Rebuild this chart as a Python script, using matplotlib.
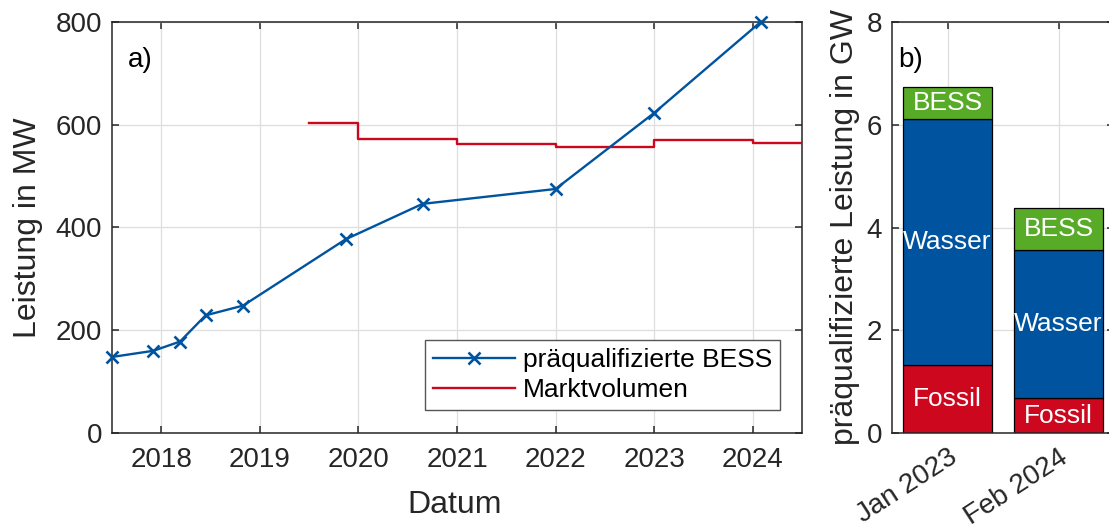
import matplotlib
matplotlib.use("Agg")
import matplotlib.pyplot as plt

plt.rcParams["font.family"] = ["Liberation Sans", "DejaVu Sans"]

# ── Data ──────────────────────────────────────────────────────────────────────
bess_dates = [2017.5, 2017.92, 2018.19, 2018.45, 2018.83, 2019.87, 2020.65, 2022.0, 2023.0, 2024.08]
bess_mw    = [148, 160, 178, 229, 248, 377, 446, 475, 623, 800]

markt_dates = [2019.5, 2020.0, 2021.0, 2022.0, 2023.0, 2024.0, 2024.5]
markt_mw    = [604, 573, 563, 556, 571, 565, 565]

year_ticks = [2018, 2019, 2020, 2021, 2022, 2023, 2024]

bar_labels = ["Jan 2023", "Feb 2024"]
fossil_gw  = [1.33, 0.68]
wasser_gw  = [4.79, 2.89]
bess_gw    = [0.62, 0.81]

# ── Style ─────────────────────────────────────────────────────────────────────
BLUE  = "#00549F"
RED   = "#CC071E"
GREEN = "#57AB27"
DARK  = "#262626"
TICK_FS  = 20
LABEL_FS = 23

W, H = 1109, 531
fig = plt.figure(figsize=(W / 100, H / 100), dpi=100)


def style_axes(ax):
    for s in ax.spines.values():
        s.set_color(DARK)
        s.set_linewidth(1.1)
    ax.tick_params(direction="in", length=5, width=1.1, colors=DARK,
                   labelsize=TICK_FS, top=True, right=True,
                   labelcolor=DARK)
    ax.grid(True, color="#dedede", linewidth=0.9)
    ax.set_axisbelow(True)


# ── a) time series ────────────────────────────────────────────────────────────
ax1 = fig.add_axes([112 / W, 1 - 433 / H, 690 / W, 411 / H])
style_axes(ax1)
ax1.plot(bess_dates, bess_mw, color=BLUE, lw=1.7, marker="x", ms=9, mew=1.9,
         label="präqualifizierte BESS", clip_on=False, zorder=4)
ax1.plot(markt_dates, markt_mw, color=RED, lw=1.7, drawstyle="steps-post",
         label="Marktvolumen", zorder=3)
ax1.set_xlim(2017.5, 2024.5)
ax1.set_ylim(0, 800)
ax1.set_xticks(year_ticks)
ax1.set_xticklabels([str(y) for y in year_ticks])
ax1.set_yticks([0, 200, 400, 600, 800])
ax1.tick_params(axis="x", pad=10)
ax1.tick_params(axis="y", pad=7)
ax1.text(0.023, 0.94, "a)", transform=ax1.transAxes, fontsize=20,
         color="black", ha="left", va="top")

leg = ax1.legend(loc="lower right", bbox_to_anchor=(0.968, 0.056),
                 fontsize=19, frameon=True, fancybox=False, framealpha=1,
                 edgecolor="#555555", handlelength=3.1, handletextpad=0.3,
                 labelspacing=0.22, borderpad=0.3, borderaxespad=0)
leg.get_frame().set_linewidth(1.0)

fig.text(28 / W, 1 - 228 / H, "Leistung in MW", rotation=90, ha="center",
         va="center", fontsize=LABEL_FS, color=DARK)
fig.text(455 / W, 1 - 505 / H, "Datum", ha="center", va="center",
         fontsize=LABEL_FS, color=DARK)

# ── b) stacked bars ───────────────────────────────────────────────────────────
ax2 = fig.add_axes([892 / W, 1 - 433 / H, 222 / W, 411 / H])
style_axes(ax2)
pos = [1, 2]
bottom_w = fossil_gw
bottom_b = [f + w for f, w in zip(fossil_gw, wasser_gw)]
ax2.bar(pos, fossil_gw, width=0.8, color=RED, edgecolor="black", lw=0.9)
ax2.bar(pos, wasser_gw, width=0.8, bottom=bottom_w, color=BLUE,
        edgecolor="black", lw=0.9)
ax2.bar(pos, bess_gw, width=0.8, bottom=bottom_b, color=GREEN,
        edgecolor="black", lw=0.9)

for i, p in enumerate(pos):
    ax2.text(p, fossil_gw[i] / 2, "Fossil", color="white", fontsize=19,
             ha="center", va="center")
    ax2.text(p, bottom_w[i] + wasser_gw[i] / 2, "Wasser", color="white",
             fontsize=19, ha="center", va="center")
    ax2.text(p, bottom_b[i] + bess_gw[i] / 2, "BESS", color="white",
             fontsize=19, ha="center", va="center")

ax2.set_xlim(0.5, 2.5)
ax2.set_ylim(0, 8)
ax2.set_yticks([0, 2, 4, 6, 8])
ax2.set_xticks(pos)
ax2.set_xticklabels(bar_labels, rotation=33, ha="right",
                    rotation_mode="anchor")
ax2.tick_params(axis="x", pad=8)
ax2.tick_params(axis="y", pad=7)
ax2.text(0.03, 0.94, "b)", transform=ax2.transAxes, fontsize=20,
         color="black", ha="left", va="top")

fig.text(845 / W, 1 - 227 / H, "präqualifizierte Leistung in GW",
         rotation=90, ha="center", va="center", fontsize=LABEL_FS, color=DARK)

fig.savefig("out.png", dpi=100)
